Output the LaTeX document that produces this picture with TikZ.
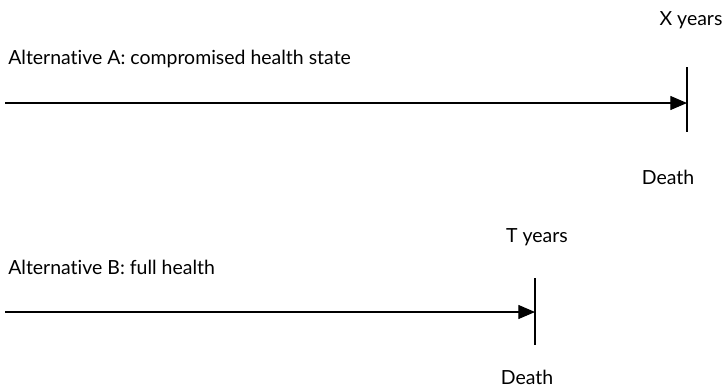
\documentclass[tikz,border=0pt]{standalone}
\usepackage{fontspec}
\setmainfont{Lato}[Ligatures={NoCommon,NoRare,NoDiscretionary}]
\usetikzlibrary{arrows.meta}
\begin{document}
\begin{tikzpicture}[x=0.75pt,y=-0.75pt,
  lbl/.style={font=\fontsize{14.6}{16}\selectfont, inner sep=0pt},
  timeline/.style={line width=0.9pt, -{Triangle[length=12.5pt,width=10.5pt]}},
  bar/.style={line width=0.9pt}]
\useasboundingbox (0,0) rectangle (724,387);
% Alternative A
\node[lbl, anchor=west] (la) at (8,59) {Alternative A: compromised health state};
\coordinate (sa) at (5,103);
\coordinate (ea) at (687,103);
\coordinate (ta) at (687,67);
\coordinate (ba) at (687,132);
\draw[timeline] (sa) -- (ea);
\draw[bar] (ta) -- (ba);
\node[lbl] (xa) at (691,20) {X years};
\node[lbl] (da) at (668,177) {Death};
% Alternative B
\node[lbl, anchor=west] (lb) at (8,267) {Alternative B: full health};
\coordinate (sb) at (5,312);
\coordinate (eb) at (535,312);
\coordinate (tb) at (535,278);
\coordinate (bb) at (535,345);
\draw[timeline] (sb) -- (eb);
\draw[bar] (tb) -- (bb);
\node[lbl] (xb) at (537,237) {T years};
\node[lbl] (db) at (527,377) {Death};
\end{tikzpicture}
\end{document}
